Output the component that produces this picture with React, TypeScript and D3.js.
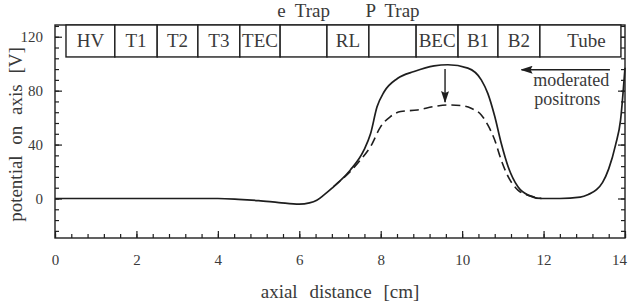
import React, { useEffect, useRef } from "react";
import * as d3 from "d3";

// axial distance [cm] and potential on axis [V]
const solidX = [0, 1, 2, 3, 4, 4.5, 5, 5.5, 6.0, 6.25, 6.43, 6.6, 6.84, 7.0, 7.25, 7.59, 7.75, 7.91, 8.08, 8.41, 8.82, 9.31, 9.65, 10.14, 10.47, 10.63, 10.8, 10.96, 11.13, 11.37, 11.62, 11.95, 12.4, 12.9, 13.1, 13.3, 13.45, 13.6, 13.77, 13.89, 14.0];
const solidY = [0, 0, 0, 0, 0, -0.6, -1.6, -3, -4.2, -3.3, -1.3, 2.5, 8.7, 13, 21, 36, 48, 68, 79, 89, 94.2, 98.4, 99.2, 96.7, 88, 78, 61, 41, 23.6, 8.7, 2.5, 0, 0, 1, 3, 6.5, 12, 22, 40, 58, 97];

const dashedX = [6.84, 7.0, 7.25, 7.5, 7.75, 8.0, 8.24, 8.49, 8.9, 9.31, 9.65, 9.97, 10.22, 10.47, 10.63, 10.8, 10.96, 11.13, 11.37, 11.62, 11.95];
const dashedY = [8.7, 13, 19.9, 28.5, 38.5, 53.3, 60.8, 64.5, 65.7, 68.2, 69.4, 68.9, 66.9, 62, 54.6, 43.4, 28.5, 16.2, 6.2, 2.5, 0];

const electrodeEdges = [0.27, 1.47, 2.51, 3.51, 4.54, 5.53, 6.68, 7.71, 8.87, 9.9, 10.88, 11.91, 13.9];
const electrodeNames = ["HV", "T1", "T2", "T3", "TEC", "", "RL", "", "BEC", "B1", "B2", "Tube"];
const trapNames = ["e  Trap", "P  Trap"];
const trapBoxes = [5, 7];

const xMajor = [0, 2, 4, 6, 8, 10, 12, 14];
const yMajor = [0, 40, 80, 120];

const W = 630;
const H = 303;
const margin = { top: 25, right: 5, bottom: 65, left: 55 };
const font = "Liberation Serif, DejaVu Serif, serif";
const ink = "#1e1e1e";
const textInk = "#3a3a3a";

export default function App() {
  const ref = useRef<SVGSVGElement | null>(null);

  useEffect(() => {
    if (!ref.current) return;
    const svg = d3.select(ref.current);
    svg.selectAll("*").remove();

    const x = d3.scaleLinear().domain([0, 14]).range([margin.left, W - margin.right]);
    const y = d3.scaleLinear().domain([-29.3, 128.7]).range([H - margin.bottom, margin.top]);

    const defs = svg.append("defs");
    defs.append("marker")
      .attr("id", "head")
      .attr("viewBox", "0 0 12 8")
      .attr("refX", 11)
      .attr("refY", 4)
      .attr("markerWidth", 12)
      .attr("markerHeight", 8)
      .attr("markerUnits", "userSpaceOnUse")
      .attr("orient", "auto")
      .append("path")
      .attr("d", "M0,0 L12,4 L0,8 L2,4 Z")
      .attr("fill", ink);

    const minorX = d3.range(0, 14.001, 0.4);
    const minorY = d3.range(-24, 129, 8);

    const styleAxis = (g: any, labels: boolean) => {
      g.attr("font-family", font).attr("font-size", 15);
      g.select(".domain").remove();
      g.selectAll("line").attr("stroke", ink).attr("stroke-width", 1.2);
      g.selectAll("text").attr("fill", labels ? textInk : "none");
    };

    const bottom = H - margin.bottom;
    const left = margin.left;
    const right = W - margin.right;

    svg.append("g").attr("transform", `translate(0,${bottom})`)
      .call(d3.axisBottom(x).tickValues(minorX).tickSize(-4).tickSizeOuter(0).tickFormat(() => ""))
      .call((g: any) => styleAxis(g, false));
    svg.append("g").attr("transform", `translate(0,${bottom})`)
      .call(d3.axisBottom(x).tickValues(xMajor).tickSize(-7).tickSizeOuter(0).tickPadding(16).tickFormat(d3.format("d")))
      .call((g: any) => styleAxis(g, true))
      .call((g: any) => g.selectAll("text").filter((d: number) => d === 14).attr("dx", -6));

    svg.append("g").attr("transform", `translate(${left},0)`)
      .call(d3.axisLeft(y).tickValues(minorY).tickSize(-4).tickSizeOuter(0).tickFormat(() => ""))
      .call((g: any) => styleAxis(g, false));
    svg.append("g").attr("transform", `translate(${left},0)`)
      .call(d3.axisLeft(y).tickValues(yMajor).tickSize(-7).tickSizeOuter(0).tickPadding(12).tickFormat(d3.format("d")))
      .call((g: any) => styleAxis(g, true));

    svg.append("g").attr("transform", `translate(${right},0)`)
      .call(d3.axisRight(y).tickValues(minorY).tickSize(-4).tickSizeOuter(0).tickFormat(() => ""))
      .call((g: any) => styleAxis(g, false));
    svg.append("g").attr("transform", `translate(${right},0)`)
      .call(d3.axisRight(y).tickValues(yMajor).tickSize(-7).tickSizeOuter(0).tickFormat(() => ""))
      .call((g: any) => styleAxis(g, false));

    // frame
    svg.append("rect")
      .attr("x", left).attr("y", margin.top)
      .attr("width", right - left).attr("height", bottom - margin.top)
      .attr("fill", "none").attr("stroke", ink).attr("stroke-width", 1.4);

    // electrode boxes
    const boxBottom = y(105);
    const boxes = svg.append("g").attr("font-family", font).attr("font-size", 19);
    electrodeNames.forEach((name, i) => {
      const x0 = x(electrodeEdges[i]);
      const x1 = x(electrodeEdges[i + 1]);
      boxes.append("rect")
        .attr("x", x0).attr("y", margin.top)
        .attr("width", x1 - x0).attr("height", boxBottom - margin.top)
        .attr("fill", "white").attr("stroke", ink).attr("stroke-width", 1.4);
      if (name) {
        boxes.append("text")
          .attr("x", (x0 + x1) / 2 + (name === "Tube" ? 6 : 0))
          .attr("y", (margin.top + boxBottom) / 2 + 6.5)
          .attr("text-anchor", "middle")
          .attr("fill", textInk)
          .text(name);
      }
    });

    trapNames.forEach((name, i) => {
      const b = trapBoxes[i];
      svg.append("text")
        .attr("x", (x(electrodeEdges[b]) + x(electrodeEdges[b + 1])) / 2)
        .attr("y", 17)
        .attr("text-anchor", "middle")
        .attr("fill", textInk)
        .attr("font-family", font)
        .attr("font-size", 19)
        .style("white-space", "pre")
        .text(name);
    });

    const line = d3.line<number>()
      .x((d) => x(d))
      .curve(d3.curveMonotoneX);

    svg.append("path")
      .attr("d", line.y((d, i) => y(solidY[i]))(solidX))
      .attr("fill", "none").attr("stroke", ink).attr("stroke-width", 1.7);

    svg.append("path")
      .attr("d", line.y((d, i) => y(dashedY[i]))(dashedX))
      .attr("fill", "none").attr("stroke", ink).attr("stroke-width", 1.6)
      .attr("stroke-dasharray", "9,5");

    // arrows
    svg.append("line")
      .attr("x1", x(9.58)).attr("y1", y(96))
      .attr("x2", x(9.58)).attr("y2", y(71.5))
      .attr("stroke", ink).attr("stroke-width", 1.4)
      .attr("marker-end", "url(#head)");
    svg.append("line")
      .attr("x1", x(13.63)).attr("y1", y(95.5))
      .attr("x2", x(11.46)).attr("y2", y(95.5))
      .attr("stroke", ink).attr("stroke-width", 1.6)
      .attr("marker-end", "url(#head)");

    const note = svg.append("g")
      .attr("fill", textInk)
      .attr("font-family", font)
      .attr("font-size", 18)
      .attr("text-anchor", "middle");
    note.append("text").attr("x", x(12.68)).attr("y", y(83.5)).text("moderated");
    note.append("text").attr("x", x(12.58)).attr("y", y(69)).text("positrons");

    // axis titles
    svg.append("text")
      .attr("x", (left + right) / 2)
      .attr("y", 298)
      .attr("text-anchor", "middle")
      .attr("fill", textInk)
      .attr("font-family", font)
      .attr("font-size", 19)
      .style("word-spacing", "7px")
      .text("axial distance [cm]");

    svg.append("text")
      .attr("transform", `translate(22,${134.5}) rotate(-90)`)
      .attr("text-anchor", "middle")
      .attr("fill", textInk)
      .attr("font-family", font)
      .attr("font-size", 19)
      .style("word-spacing", "6px")
      .text("potential on axis [V]");
  }, []);

  return (
    <svg
      ref={ref}
      width={W}
      height={H}
      style={{ position: "absolute", left: 0, top: 0, background: "white" }}
    />
  );
}
